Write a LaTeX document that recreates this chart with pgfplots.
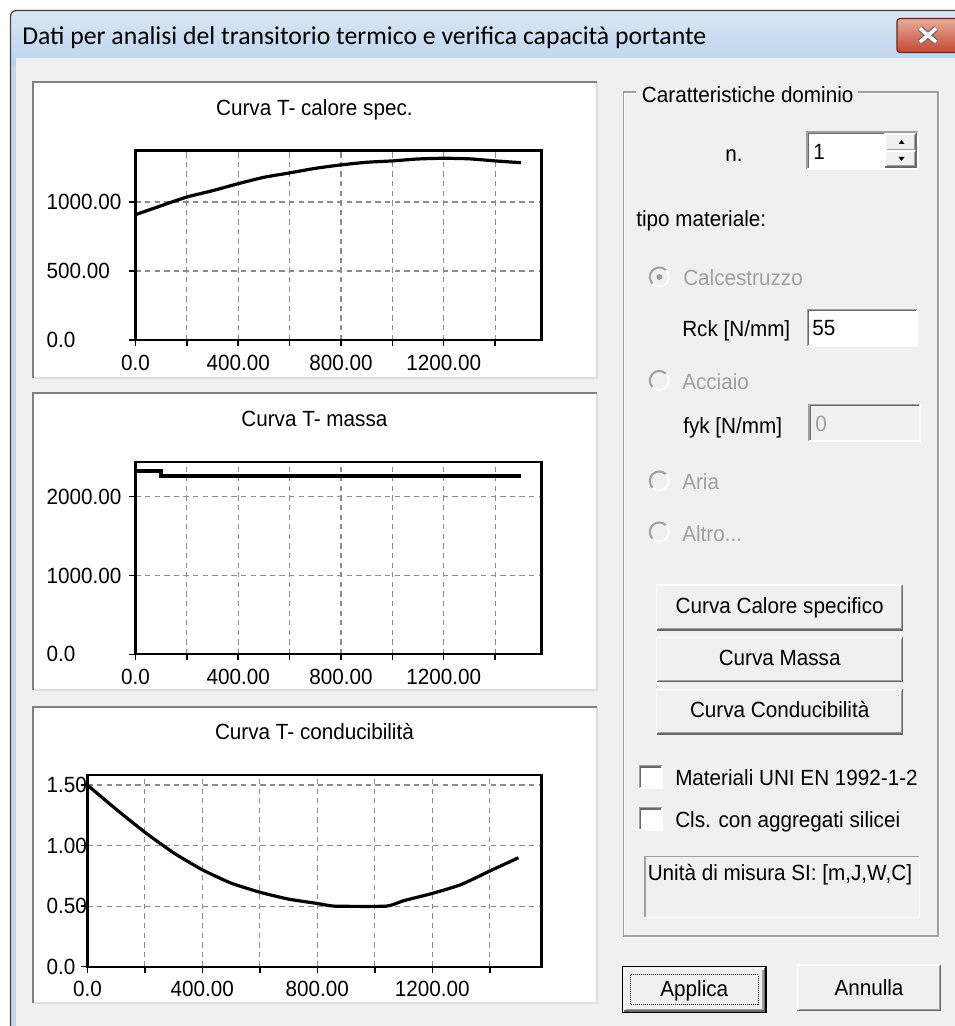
\documentclass[border=0pt]{standalone}
\usepackage{fontspec}
\setmainfont{Liberation Sans}[FakeStretch=0.94]
\newfontfamily\captionfont{Carlito}
\usepackage{pgfplots}
\pgfplotsset{compat=1.18}

% 1 screen pixel of the reference = 0.75pt
\newlength\px
\setlength\px{0.75pt}
\newcommand\dlg{\fontsize{16.5}{19}\selectfont}

\definecolor{dlgbg}{RGB}{240,240,240}
\definecolor{edgedark}{RGB}{105,105,105}
\definecolor{edgemid}{RGB}{160,160,160}
\definecolor{edgelight}{RGB}{227,227,227}
\definecolor{greytxt}{RGB}{160,160,160}
\definecolor{gridgray}{RGB}{140,140,140}
\definecolor{panelgray}{RGB}{128,128,128}
\definecolor{panellight}{RGB}{222,222,222}
\definecolor{titletop}{RGB}{219,231,245}
\definecolor{titlebot}{RGB}{188,210,236}
\definecolor{framecol}{RGB}{196,214,236}
\definecolor{framedark}{RGB}{70,70,70}
\definecolor{closetop}{RGB}{234,170,155}
\definecolor{closebot}{RGB}{196,72,52}
\definecolor{closeedge}{RGB}{100,40,30}

\tikzset{
  lbl/.style={anchor=base west, inner sep=0pt, font=\dlg},
  ctr/.style={anchor=base, inner sep=0pt, font=\dlg},
}

% all helper coordinates: x to the right, y downwards from the top (pixels)
\newcommand\panel[4]{%
  \fill[white] (#1,1026-#2) rectangle (#3,1026-#4);
  \draw[panellight, line width=2\px] (#1,1026-#4) -- (#3,1026-#4) -- (#3,1026-#2);
  \draw[panelgray, line width=2.5\px] (#1,1026-#4) -- (#1,1026-#2) -- (#3,1026-#2);
}
\newcommand\raised[4]{%
  \fill[dlgbg] (#1,1026-#2) rectangle (#3,1026-#4);
  \draw[white, line width=1.3\px] (#1,1026-#4) -- (#1,1026-#2) -- (#3,1026-#2);
  \draw[edgedark, line width=1.5\px] (#1,1026-#4) -- (#3,1026-#4) -- (#3,1026-#2);
  \draw[edgemid, line width=1.3\px] (#1+1.5,1026-#4+1.5) -- (#3-1.5,1026-#4+1.5) -- (#3-1.5,1026-#2-1.5);
}
\newcommand\sunken[5]{%
  \fill[#5] (#1,1026-#2) rectangle (#3,1026-#4);
  \draw[edgemid, line width=1.3\px] (#1,1026-#4) -- (#1,1026-#2) -- (#3,1026-#2);
  \draw[edgedark, line width=1.3\px] (#1+1.3,1026-#4+1.3) -- (#1+1.3,1026-#2-1.3) -- (#3-1.3,1026-#2-1.3);
  \draw[white, line width=1.3\px] (#1,1026-#4) -- (#3,1026-#4) -- (#3,1026-#2);
}
\newcommand\radio[2]{%
  \fill[dlgbg] (#1,1026-#2) circle[radius=9.5];
  \draw[edgemid, line width=2\px] (#1,1026-#2) ++(45:9.5) arc[start angle=45, end angle=225, radius=9.5];
  \draw[white, line width=2\px] (#1,1026-#2) ++(225:9.5) arc[start angle=225, end angle=405, radius=9.5];
}

\pgfplotsset{
  dlgaxis/.style={
    scale only axis,
    anchor=south west,
    xmin=0, xmax=1580, ymin=0,
    clip=false,
    axis line style={line width=1.8pt},
    tick align=outside,
    tick pos=left,
    major tick length=6\px,
    tick style={black, line width=1.1pt},
    grid=major,
    major grid style={dash pattern=on 4pt off 3.2pt, line width=0.85pt, color=gridgray},
    xtick={0,200,...,1400},
    xticklabels={0.0,,400.00,,800.00,,1200.00,},
    tick label style={font=\dlg},
    xticklabel style={yshift=-4\px},
    yticklabel style={anchor=west, inner sep=0pt},
    every axis title/.style={at={(0.5,1)}, anchor=base, yshift=35\px, font=\dlg},
  },
}

\begin{document}
\begin{tikzpicture}[x=0.75pt, y=0.75pt]
\useasboundingbox (0,0) rectangle (955,1026);
\begin{scope}
\clip (0,0) rectangle (955,1026);
\fill[white] (0,0) rectangle (955,1026);
% window frame and title bar
\fill[framecol, rounded corners=4.5pt] (10,-20) rectangle (985,1016);
\shade[top color=titletop, bottom color=titlebot, rounded corners=4.5pt] (11,960) rectangle (985,1015);
\draw[framedark, line width=1.2\px, rounded corners=4.5pt] (10.5,-20) -- (10.5,1015.5) -- (985,1015.5);
\fill[dlgbg] (16,-20) rectangle (985,968);
\node[anchor=base west, inner sep=0pt, font=\captionfont\fontsize{19.3}{22}\selectfont]
  at (22,1026-45) {Dati per analisi del transitorio termico e verifica capacità portante};
% close button
\shade[top color=closetop, bottom color=closebot, rounded corners=3\px] (897,1026-18.5) rectangle (990,1026-52.5);
\draw[closeedge, line width=1.3\px, rounded corners=3\px] (897,1026-18.5) rectangle (990,1026-52.5);
\draw[black!60, line width=6\px] (920,1026-28.5) -- (936,1026-42) (936,1026-28.5) -- (920,1026-42);
\draw[white, line width=3.6\px] (920,1026-28.5) -- (936,1026-42) (936,1026-28.5) -- (920,1026-42);

% chart panels
\panel{33}{82}{597}{378}
\panel{33}{393}{597}{690}
\panel{33}{707}{597}{1003}

% group box
\draw[edgemid, line width=1.2\px] (623.5,1026-92) rectangle (938,1026-936);
\draw[white, line width=1.2\px] (624.7,1026-93.2) -- (624.7,1026-934.8) (624.7,1026-93.2) -- (936.8,1026-93.2)
  (939.2,1026-91) -- (939.2,1026-937.2) -- (622.5,1026-937.2);
\fill[dlgbg] (636,1026-84) rectangle (858,1026-104);
\node[lbl] at (641.7,1026-103) {Caratteristiche dominio};

\node[lbl] at (725,1026-161.5) {n.};
\sunken{807}{132}{918}{169}{white}
\node[lbl] at (813,1026-160) {1};
\raised{885}{134}{916}{151}
\raised{885}{151}{916}{167}
\fill (901.5,1026-140) -- (898.5,1026-144) -- (904.5,1026-144) -- cycle;
\fill (901.5,1026-161) -- (898.5,1026-157) -- (904.5,1026-157) -- cycle;

\node[lbl] at (636,1026-226.5) {tipo materiale:};

\radio{659.3}{277}
\fill[greytxt] (659.3,1026-277) circle[radius=3];
\node[lbl, text=greytxt] at (683,1026-286) {Calcestruzzo};
\node[lbl] at (682,1026-336.5) {Rck [N/mm]};
\sunken{807.3}{309.3}{917.3}{346.7}{white}
\node[lbl] at (812,1026-336) {55};

\radio{659.3}{380.5}
\node[lbl, text=greytxt] at (682,1026-390) {Acciaio};
\node[lbl] at (683,1026-434) {fyk [N/mm]};
\sunken{809}{404.3}{920}{441}{dlgbg}
\node[lbl, text=greytxt] at (815,1026-431.5) {0};

\radio{659.3}{481}
\node[lbl, text=greytxt] at (682,1026-490) {Aria};
\radio{659.3}{532}
\node[lbl, text=greytxt] at (682,1026-541.5) {Altro...};

\raised{656.7}{585}{902.7}{630}
\node[ctr] at (779.7,1026-613.5) {Curva Calore specifico};
\raised{656.7}{637.3}{902.7}{681.7}
\node[ctr] at (779.7,1026-666) {Curva Massa};
\raised{656.7}{689.3}{902.7}{734}
\node[ctr] at (779.7,1026-718) {Curva Conducibilità};

\sunken{639.3}{765.7}{662.3}{788.3}{white}
\node[lbl] at (675,1026-786) {Materiali UNI EN 1992-1-2};
\sunken{639.3}{807.7}{662.3}{830}{white}
\node[lbl] at (675,1026-828) {Cls. con aggregati silicei};

\fill[dlgbg] (645,1026-856.7) rectangle (919.3,1026-917.3);
\draw[edgemid, line width=1.2\px] (645,1026-917.3) -- (645,1026-856.7) -- (919.3,1026-856.7);
\draw[white, line width=1.2\px] (645,1026-917.3) -- (919.3,1026-917.3) -- (919.3,1026-856.7);
\node[lbl] at (647.5,1026-881) {Unità di misura SI: [m,J,W,C]};

% bottom buttons
\draw[black, line width=1.3\px] (622.7,1026-966.7) rectangle (766,1026-1012.7);
\raised{624.2}{968.2}{764.5}{1011.2}
\draw[black, line width=1\px, dash pattern=on 1\px off 1\px] (630.7,1026-975) rectangle (758.3,1026-1005);
\node[ctr] at (694.3,1026-996.5) {Applica};
\raised{797.3}{965}{940.7}{1010.7}
\node[ctr] at (869,1026-995) {Annulla};
\end{scope}

% Curva T- calore spec.
\begin{axis}[dlgaxis,
    at={(135.4\px,686\px)}, width=406\px, height=189.3\px,
    ymax=1372, ytick={0,500,1000}, yticklabels={0.0,500.00,1000.00},
    yticklabel style={xshift=-83\px},
    title={Curva T- calore spec.}, title style={xshift=-24\px}]
  \addplot[black, line width=2.4pt, smooth, tension=0.4] coordinates {
    (0,908) (100,973) (200,1036) (300,1082) (400,1133) (500,1179)
    (600,1211) (700,1244) (800,1269) (900,1288) (1000,1298) (1100,1312)
    (1200,1317) (1300,1313) (1400,1298) (1500,1285)
  };
\end{axis}

% Curva T- massa
\begin{axis}[dlgaxis,
    at={(135.4\px,371.7\px)}, width=406\px, height=192.3\px,
    ymax=2440, ytick={0,1000,2000}, yticklabels={0.0,1000.00,2000.00},
    yticklabel style={xshift=-83\px},
    title={Curva T- massa}, title style={xshift=-24\px}]
  \addplot[black, line width=2.4pt] coordinates {
    (0,2326) (100,2326) (100,2263) (1500,2263)
  };
\end{axis}

% Curva T- conducibilita
\begin{axis}[dlgaxis,
    at={(87.4\px,59.3\px)}, width=454.1\px, height=191.7\px,
    ymax=1.583, ytick={0,0.5,1,1.5}, yticklabels={0.0,0.50,1.00,1.50},
    yticklabel style={xshift=-35\px},
    title={Curva T- conducibilità}]
  \addplot[black, line width=2.4pt, smooth, tension=0.3] coordinates {
    (0,1.50) (100,1.30) (200,1.11) (300,0.94) (400,0.80) (500,0.69)
    (600,0.615) (700,0.558) (800,0.522) (860,0.50) (1040,0.50) (1100,0.545)
    (1200,0.605) (1300,0.678) (1400,0.79) (1500,0.90)
  };
\end{axis}
\end{tikzpicture}
\end{document}
